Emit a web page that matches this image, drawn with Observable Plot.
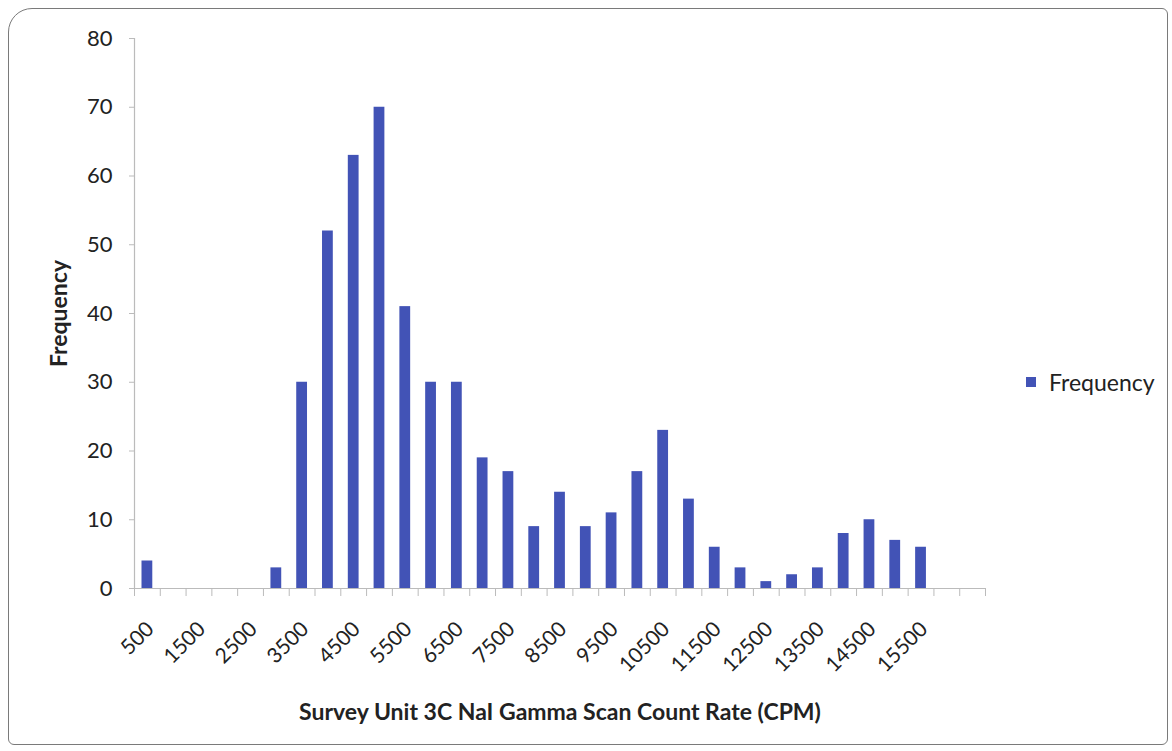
<!DOCTYPE html>
<html>
<head>
<meta charset="utf-8">
<script src="https://cdn.jsdelivr.net/npm/d3@7"></script>
<script src="https://cdn.jsdelivr.net/npm/@observablehq/plot@0.6"></script>
<style>
  html, body { margin: 0; padding: 0; background: #fff; }
  #wrap { position: relative; width: 1172px; height: 751px; overflow: hidden; font-family: Lato, "Open Sans", sans-serif; }
  #frame { position: absolute; left: 8px; top: 8px; width: 1160px; height: 737px; border: 1.5px solid #7a7a7a; border-radius: 24px 6px 6px 6px; box-sizing: border-box; pointer-events: none; }
  #legend { position: absolute; left: 1026px; top: 368px; height: 28px; display: flex; align-items: center; font-size: 23px; color: #222; }
  #legend .sw { width: 10px; height: 10px; background: #4253b6; margin-right: 13px; }
  #chart { position: absolute; left: 0; top: 0; }
</style>
</head>
<body>
<div id="wrap">
  <div id="chart"></div>
  <div id="frame"></div>
  <div id="legend"><span class="sw"></span><span>Frequency</span></div>
</div>
<script>
// Bin centres (CPM) and frequencies
const bins = [500, 1000, 1500, 2000, 2500, 3000, 3500, 4000, 4500, 5000, 5500, 6000, 6500, 7000, 7500, 8000,
  8500, 9000, 9500, 10000, 10500, 11000, 11500, 12000, 12500, 13000, 13500, 14000, 14500, 15000, 15500, 16000, 16500];
const counts = [4, 0, 0, 0, 0, 3, 30, 52, 63, 70, 41, 30, 30, 19, 17, 9,
  14, 9, 11, 17, 23, 13, 6, 3, 1, 2, 3, 8, 10, 7, 6, 0, 0];
const labelBins = [500, 1500, 2500, 3500, 4500, 5500, 6500, 7500, 8500, 9500, 10500, 11500, 12500, 13500, 14500, 15500];
const yTicks = [0, 10, 20, 30, 40, 50, 60, 70, 80];
const xTitle = "Survey Unit 3C NaI Gamma Scan Count Rate (CPM)";
const yTitle = "Frequency";

const half = 250;
const data = bins.map((b, i) => ({bin: b, count: counts[i]}));
const edges = bins.map(b => b - half).concat([bins[bins.length - 1] + half]);

const chart = Plot.plot({
  width: 1172,
  height: 751,
  marginLeft: 134,
  marginRight: 187,
  marginTop: 38,
  marginBottom: 163,
  style: {fontFamily: "Lato, 'Open Sans', sans-serif", fontSize: "22px", color: "#222", background: "transparent"},
  x: {domain: [bins[0] - half, bins[bins.length - 1] + half]},
  y: {domain: [0, 80]},
  marks: [
    Plot.rectY(data, {x1: d => d.bin - half, x2: d => d.bin + half, y: "count", fill: "#4253b6", insetLeft: 7.5, insetRight: 7.5}),
    Plot.ruleY([0], {stroke: "#bbb", strokeWidth: 1.2}),
    Plot.ruleX([bins[0] - half], {stroke: "#bbb", strokeWidth: 1.2}),
    Plot.axisY({ticks: yTicks, tickSize: 5, tickPadding: 17, stroke: "#bbb", fontSize: 22,
      label: yTitle, labelAnchor: "center", labelArrow: "none", labelOffset: 84}),
    Plot.axisX({ticks: edges, tickSize: 8, tickFormat: () => "", stroke: "#bbb", label: null}),
    Plot.axisX({ticks: labelBins, tickSize: 0, tickPadding: 37, dx: 3, tickRotate: -45, fontSize: 21,
      tickFormat: d => String(d), label: xTitle, labelAnchor: "center", labelArrow: "none", labelOffset: 131})
  ]
});
chart.querySelectorAll("g[aria-label='y-axis label'], g[aria-label='x-axis label']").forEach(g => {
  g.setAttribute("font-weight", "bold");
  g.setAttribute("font-size", "23");
});
document.getElementById("chart").appendChild(chart);
</script>
</body>
</html>
